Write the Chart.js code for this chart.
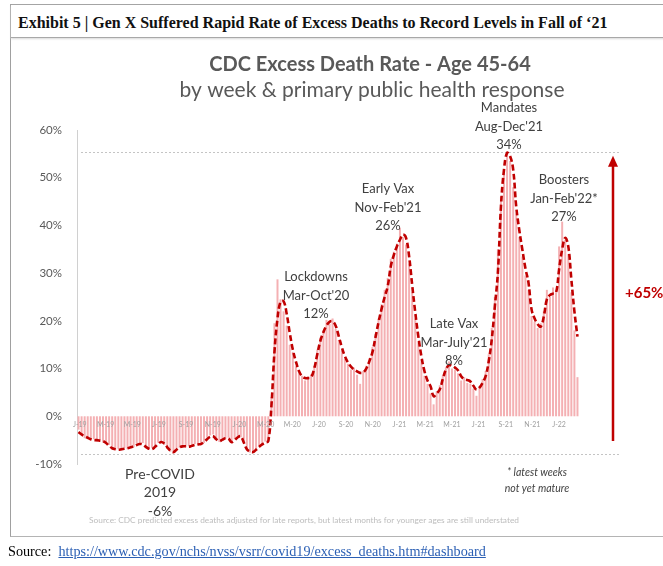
<!DOCTYPE html>
<html><head><meta charset="utf-8">
<script src="https://cdn.jsdelivr.net/npm/chart.js@4"></script>
<style>
html,body{margin:0;padding:0;background:#fff;}
#page{position:relative;width:663px;height:566px;overflow:hidden;background:#fff;}
#frame{position:absolute;left:10px;top:4px;width:700px;height:531px;border-left:1px solid #a0a0a0;border-top:1px solid #a0a0a0;border-bottom:1px solid #b4b4b4;}
#head{position:absolute;left:11px;top:5px;width:700px;height:32px;border-bottom:1px solid #a8a8a8;box-shadow:0 1px 2px #d8d8d8;}
#headText{position:absolute;left:18px;top:14px;line-height:18px;font:bold 16px "Liberation Serif","Times New Roman",serif;color:#111;white-space:nowrap;}
#chart{position:absolute;left:0;top:0;}
#src{position:absolute;left:8px;top:543px;line-height:16px;font:14.2px "Liberation Serif",serif;color:#000;white-space:nowrap;}
#src a{color:#2b5fb4;text-decoration:underline;}
</style></head>
<body>
<div id="page">
  <div id="frame"></div>
  <div id="head"></div>
  <div id="headText">Exhibit 5 | Gen X Suffered Rapid Rate of Excess Deaths to Record Levels in Fall of ‘21</div>
  <canvas id="chart" width="663" height="566"></canvas>
  <div id="src">Source:&nbsp; <a href="#">https://www.cdc.gov/nchs/nvss/vsrr/covid19/excess_deaths.htm#dashboard</a></div>
</div>
<script>
// ---- data ----
const firstWeek = '2019-01-05';
const weekCount = 164;
const weeklyRate = [
 -2.8,-4.0,-4.6,-4.3,-5.1,-4.8,-5.3,-4.9,-5.5,-5.8,
 -6.0,-6.9,-7.1,-6.8,-7.2,-6.6,-6.9,-6.3,-6.5,-5.7,
 -6.0,-5.6,-6.7,-7.0,-6.6,-6.2,-5.5,-5.2,-6.0,-6.8,
 -7.4,-7.8,-6.8,-6.6,-6.0,-6.5,-6.2,-6.4,-5.8,-6.1,
 -5.5,-5.6,-4.5,-4.0,-3.8,-5.0,-5.4,-4.6,-4.8,-4.5,
 -5.7,-4.8,-4.1,-4.4,-5.8,-7.2,-7.6,-7.3,-7.2,-6.1,
 -6.0,-5.3,-4.8,4.0,19.5,28.7,24.5,22.0,19.0,15.0,
 13.5,10.5,9.0,8.5,7.5,8.3,8.8,10.5,14.0,16.5,
 18.0,20.2,19.4,20.5,18.3,16.0,13.8,12.0,11.0,9.8,
 10.2,8.7,6.8,9.5,10.6,12.2,14.5,17.3,20.5,23.5,
 26.5,29.0,33.0,34.5,36.2,39.5,37.5,36.0,32.0,26.0,
 20.5,15.5,11.8,8.5,6.8,4.8,2.5,5.2,6.5,8.5,
 10.2,11.5,10.0,9.8,9.0,7.5,8.2,7.0,6.8,5.8,
 4.3,6.3,7.8,9.5,13.0,18.5,25.0,35.0,46.0,51.5,
 55.0,53.5,48.0,42.5,37.6,33.5,29.5,26.5,21.0,19.8,
 18.5,19.5,22.0,26.5,25.0,27.0,26.0,35.6,40.8,37.0,
 34.0,26.0,18.0,8.2
];
const trendRate = [
 -3.3,-3.8,-4.2,-4.5,-4.8,-5.0,-5.0,-5.1,-5.2,-5.6,
 -6.2,-6.7,-6.9,-7.0,-6.9,-6.8,-6.7,-6.5,-6.3,-6.0,
 -5.8,-5.9,-6.4,-6.8,-6.9,-6.4,-5.8,-5.4,-5.7,-6.5,
 -7.2,-7.5,-7.0,-6.5,-6.3,-6.3,-6.4,-6.2,-6.0,-5.9,
 -5.8,-5.4,-4.8,-4.3,-4.2,-4.8,-5.2,-4.9,-4.6,-4.7,
 -5.4,-5.0,-4.4,-4.2,-5.5,-6.9,-7.4,-7.5,-7.0,-6.4,
 -5.9,-5.5,-5.2,2.0,13.4,20.5,24.0,24.1,21.5,17.5,
 14.0,11.5,9.5,8.4,8.0,8.0,8.2,10.0,13.0,15.8,
 17.6,19.0,19.8,19.9,19.0,16.8,14.5,12.6,11.3,10.4,
 9.8,9.4,9.1,9.2,10.0,11.5,13.4,16.5,19.7,22.5,
 25.0,27.2,31.4,33.8,35.6,37.0,38.1,37.4,33.5,27.5,
 21.8,16.8,12.6,9.5,7.5,6.3,4.2,4.8,5.6,7.8,
 9.8,10.7,10.6,10.2,9.6,8.4,7.8,7.6,7.3,6.4,
 5.6,6.0,7.0,8.4,11.5,16.1,23.0,30.1,43.9,51.7,
 55.2,54.5,51.7,43.9,39.0,34.9,31.0,28.0,22.4,20.5,
 19.3,18.8,20.9,24.5,25.4,25.7,25.9,30.8,35.0,37.4,
 35.6,28.7,22.0,16.7
];
const tickLabels = ['J-19','M-19','M-19','J-19','S-19','N-19','J-20','M-20','M-20','J-20','S-20','N-20','J-21','M-21','M-21','J-21','S-21','N-21','J-22'];
const tickMonths = ['2019-01-01','2019-03-01','2019-05-01','2019-07-01','2019-09-01','2019-11-01','2020-01-01','2020-03-01','2020-05-01','2020-07-01','2020-09-01','2020-11-01','2021-01-01','2021-03-01','2021-05-01','2021-07-01','2021-09-01','2021-11-01','2022-01-01'];
const yTicks = [-10,0,10,20,30,40,50,60];
const rangeTop = 55.4, rangeBottom = -7.9;
const arrowBase = -5.2, arrowTip = 54.6;
const changeLabel = '+65%';

const noteGroups = [
  {lines:['Mandates',"Aug-Dec'21",'34%'], x:509, y:108, size:13},
  {lines:['Early Vax',"Nov-Feb'21",'26%'], x:388, y:189, size:13},
  {lines:['Boosters',"Jan-Feb'22*",'27%'], x:564, y:180, size:13},
  {lines:['Lockdowns',"Mar-Oct'20",'12%'], x:316, y:277, size:13},
  {lines:['Late Vax',"Mar-July'21",'8%'], x:454, y:324, size:13},
  {lines:['Pre-COVID','2019','-6%'], x:160, y:474, size:14}
];

// categories: weekly dates
const DAY = 86400000;
const t0 = Date.parse(firstWeek+'T00:00:00Z');
const weeks = [];
for (let i=0;i<weekCount;i++){ weeks.push(new Date(t0+i*7*DAY).toISOString().slice(0,10)); }

const FONT = 'Lato, "Open Sans", sans-serif';

const annot = {
  id:'annot',
  beforeDatasetsDraw(c){
    const ctx=c.ctx, y=c.scales.y, a=c.chartArea;
    ctx.save();
    ctx.strokeStyle='#c4c4c4'; ctx.lineWidth=1; ctx.setLineDash([2,2]);
    [rangeTop, rangeBottom].forEach(v=>{
      const py=Math.round(y.getPixelForValue(v))+0.5;
      ctx.beginPath(); ctx.moveTo(a.left+4,py); ctx.lineTo(620,py); ctx.stroke();
    });
    ctx.restore();
  },
  afterDraw(c){
    const ctx=c.ctx, x=c.scales.x, y=c.scales.y;
    ctx.save();
    // titles
    ctx.fillStyle='#595959'; ctx.textAlign='center'; ctx.textBaseline='middle';
    ctx.font='bold 20px '+FONT; ctx.fillText('CDC Excess Death Rate - Age 45-64', 370, 65);
    ctx.font='21px '+FONT; ctx.fillText('by week & primary public health response', 372, 90);
    // x tick labels
    ctx.font='7px '+FONT; ctx.fillStyle='#a0a0a0';
    const y0=y.getPixelForValue(0)+8;
    tickMonths.forEach((m,k)=>{
      const idx=(Date.parse(m+'T00:00:00Z')-t0)/(7*DAY);
      ctx.fillText(tickLabels[k], x.getPixelForValue(idx)+3, y0);
    });
    // annotation groups
    ctx.fillStyle='#404040';
    noteGroups.forEach(g=>{
      ctx.font=g.size+'px '+FONT;
      g.lines.forEach((s,j)=>ctx.fillText(s,g.x,g.y+j*18.5));
    });
    // maturity note
    ctx.font='italic 10.5px '+FONT; ctx.fillStyle='#404040';
    ctx.fillText('* latest weeks',537,473); ctx.fillText('not yet mature',537,489);
    // footnote
    ctx.font='8.3px '+FONT; ctx.fillStyle='#bdbdbd';
    ctx.fillText('Source: CDC predicted excess deaths adjusted for late reports, but latest months for younger ages are still understated',304,520);
    // arrow
    const ax=613, yb=y.getPixelForValue(arrowBase), yt=y.getPixelForValue(arrowTip);
    ctx.strokeStyle='#c00000'; ctx.fillStyle='#c00000'; ctx.lineWidth=2.5;
    ctx.beginPath(); ctx.moveTo(ax,yb); ctx.lineTo(ax,yt+8); ctx.stroke();
    ctx.beginPath(); ctx.moveTo(ax,yt); ctx.lineTo(ax-5,yt+11); ctx.lineTo(ax+5,yt+11); ctx.closePath(); ctx.fill();
    ctx.font='bold 15px '+FONT; ctx.textAlign='left';
    ctx.fillText(changeLabel,625,293);
    ctx.restore();
  }
};

function build(){
  new Chart(document.getElementById('chart'), {
    type:'bar',
    data:{labels:weeks, datasets:[
      {type:'line', data:trendRate, borderColor:'#c00000', borderWidth:2.6, borderDash:[6,3], pointRadius:0, tension:0.4, fill:false, order:0},
      {type:'bar', data:weeklyRate, backgroundColor:'#f4b0b3', barPercentage:0.65, categoryPercentage:1, order:1}
    ]},
    options:{responsive:false, animation:false, devicePixelRatio:1,
      layout:{padding:{left:0,top:130,right:84,bottom:102}},
      plugins:{legend:{display:false}, tooltip:{enabled:false}, title:{display:false}},
      scales:{
        x:{display:false, offset:true},
        y:{min:-10,max:60, afterFit:s=>{s.width=77;},
           afterBuildTicks:s=>{s.ticks=yTicks.map(v=>({value:v}));},
           grid:{display:false, drawTicks:false},
           border:{display:true,color:'#d0d0d0'},
           ticks:{padding:15, color:'#595959', font:{family:FONT, size:11.5}, callback:v=>v+'%'}}
      }
    },
    plugins:[annot]
  });
}
Promise.all(['12px Lato','bold 12px Lato','italic 12px Lato'].map(f=>document.fonts.load(f))).then(build, build);
</script>
</body></html>
